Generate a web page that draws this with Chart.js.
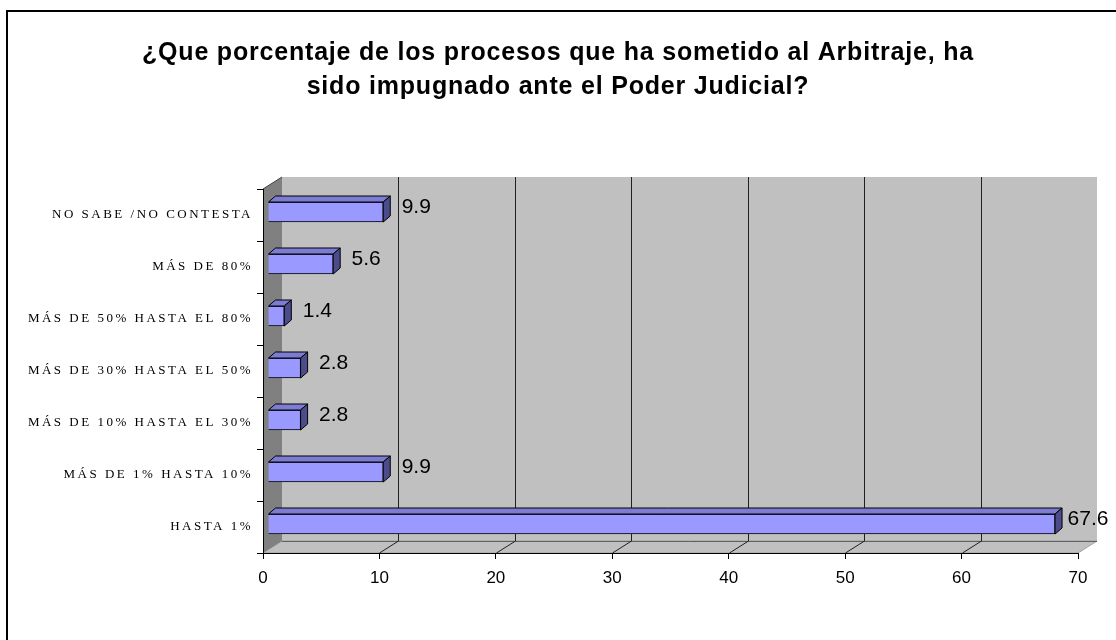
<!DOCTYPE html>
<html>
<head>
<meta charset="utf-8">
<script src="https://cdn.jsdelivr.net/npm/chart.js@4.4.0/dist/chart.umd.min.js"></script>
<style>
html, body { margin: 0; padding: 0; background: #fff; }
</style>
</head>
<body>
<canvas id="myChart" width="1116" height="640"></canvas>
<script>
const titleLines = [
    '¿Que porcentaje de los procesos que ha sometido al Arbitraje, ha',
    'sido impugnado ante el Poder Judicial?'
];
const categories = [
    'NO SABE /NO CONTESTA',
    'MÁS DE 80%',
    'MÁS DE 50% HASTA EL 80%',
    'MÁS DE 30% HASTA EL 50%',
    'MÁS DE 10% HASTA EL 30%',
    'MÁS DE 1% HASTA 10%',
    'HASTA 1%'
];
const percentages = [9.9, 5.6, 1.4, 2.8, 2.8, 9.9, 67.6];
const axisMin = 0;
const axisMax = 70;
const axisStep = 10;

// depth of the walls and of the bars (pixels)
const wallDX = 19, wallDY = 12;
const barDX = 7, barDY = 6;
const barShiftX = 5, barShiftY = -3;

function spaced(fn, spacing, dx) {
    return function (area) {
        const c = this.ctx;
        c.save();
        c.translate(dx, 0);
        c.letterSpacing = spacing;
        fn.call(this, area);
        c.letterSpacing = '0px';
        c.restore();
    };
}

const threeD = {
    id: 'threeD',
    afterLayout(chart) {
        const ys = chart.scales.y;
        if (ys && !ys._spaced) {
            ys.drawLabels = spaced(ys.drawLabels, '2.5px', 0);
            ys._spaced = true;
        }
        const tb = chart.titleBlock;
        if (tb && !tb._spaced) {
            tb.draw = spaced(tb.draw, '0.8px', 15);
            tb._spaced = true;
        }
    },
    beforeDraw(chart) {
        const ctx = chart.ctx;
        const a = chart.chartArea;
        const xs = chart.scales.x;
        ctx.save();
        // outer frame
        ctx.strokeStyle = '#000';
        ctx.lineWidth = 2;
        ctx.beginPath();
        ctx.moveTo(7, 640);
        ctx.lineTo(7, 11);
        ctx.lineTo(1116, 11);
        ctx.stroke();

        // back wall
        ctx.fillStyle = '#c0c0c0';
        ctx.fillRect(a.left + wallDX, a.top - wallDY, a.right - a.left, a.bottom - a.top);

        // floor
        ctx.beginPath();
        ctx.moveTo(a.left, a.bottom);
        ctx.lineTo(a.left + wallDX, a.bottom - wallDY);
        ctx.lineTo(a.right + wallDX, a.bottom - wallDY);
        ctx.lineTo(a.right, a.bottom);
        ctx.closePath();
        ctx.fillStyle = '#c0c0c0';
        ctx.fill();
        ctx.strokeStyle = '#a0a0a0';
        ctx.lineWidth = 1;
        ctx.stroke();

        // left wall
        ctx.beginPath();
        ctx.moveTo(a.left, a.top);
        ctx.lineTo(a.left + wallDX, a.top - wallDY);
        ctx.lineTo(a.left + wallDX, a.bottom - wallDY);
        ctx.lineTo(a.left, a.bottom);
        ctx.closePath();
        ctx.fillStyle = '#808080';
        ctx.fill();
        ctx.strokeStyle = '#404040';
        ctx.beginPath();
        ctx.moveTo(a.left, a.top);
        ctx.lineTo(a.left + wallDX, a.top - wallDY);
        ctx.stroke();

        // back edge of the floor
        ctx.strokeStyle = '#606060';
        ctx.beginPath();
        ctx.moveTo(a.left + wallDX, Math.round(a.bottom - wallDY) + 0.5);
        ctx.lineTo(a.right + wallDX, Math.round(a.bottom - wallDY) + 0.5);
        ctx.stroke();

        // gridlines on the floor and back wall
        ctx.strokeStyle = '#202020';
        for (let v = axisMin + axisStep; v < axisMax; v += axisStep) {
            const x = Math.round(xs.getPixelForValue(v)) + 0.5;
            ctx.beginPath();
            ctx.moveTo(x, a.bottom);
            ctx.lineTo(x + wallDX, a.bottom - wallDY);
            ctx.lineTo(x + wallDX, a.top - wallDY);
            ctx.stroke();
        }
        ctx.restore();
    },
    beforeDatasetsDraw(chart) {
        chart.ctx.save();
        chart.ctx.translate(barShiftX, barShiftY);
    },
    afterDatasetsDraw(chart) {
        const ctx = chart.ctx;
        const meta = chart.getDatasetMeta(0);
        ctx.lineWidth = 1;
        ctx.strokeStyle = '#000';
        meta.data.forEach((bar, i) => {
            const p = bar.getProps(['x', 'y', 'base', 'height'], true);
            const top = p.y - p.height / 2;
            const bottom = p.y + p.height / 2;
            // top face
            ctx.beginPath();
            ctx.moveTo(p.base, top);
            ctx.lineTo(p.base + barDX, top - barDY);
            ctx.lineTo(p.x + barDX, top - barDY);
            ctx.lineTo(p.x, top);
            ctx.closePath();
            ctx.fillStyle = '#7c7cd4';
            ctx.fill();
            ctx.stroke();
            // side face
            ctx.beginPath();
            ctx.moveTo(p.x, top);
            ctx.lineTo(p.x + barDX, top - barDY);
            ctx.lineTo(p.x + barDX, bottom - barDY);
            ctx.lineTo(p.x, bottom);
            ctx.closePath();
            ctx.fillStyle = '#4c4c8c';
            ctx.fill();
            ctx.stroke();
        });
        ctx.restore();

        // value labels
        ctx.save();
        ctx.font = '21px "Liberation Sans", Arial, sans-serif';
        ctx.fillStyle = '#000';
        ctx.textAlign = 'center';
        ctx.textBaseline = 'middle';
        meta.data.forEach((bar, i) => {
            const p = bar.getProps(['x', 'y'], true);
            ctx.fillText(percentages[i].toFixed(1), p.x + barShiftX + 33, p.y + barShiftY - 5);
        });
        ctx.restore();
    }
};

const ctx = document.getElementById('myChart').getContext('2d');
const chart = new Chart(ctx, {
    type: 'bar',
    data: {
        labels: categories,
        datasets: [{
            data: percentages,
            backgroundColor: '#9999ff',
            borderColor: '#000',
            borderWidth: 1,
            barThickness: 20
        }]
    },
    options: {
        indexAxis: 'y',
        responsive: false,
        animation: false,
        layout: {
            padding: { left: 8, right: 38, top: 0, bottom: 0 }
        },
        plugins: {
            legend: { display: false },
            tooltip: { enabled: false },
            title: {
                display: true,
                text: titleLines,
                color: '#000',
                font: { family: '"Liberation Sans", Arial, sans-serif', size: 25, weight: 'bold', lineHeight: '34px' },
                padding: { top: 36, bottom: 85 }
            }
        },
        scales: {
            x: {
                min: axisMin,
                max: axisMax,
                ticks: {
                    stepSize: axisStep,
                    color: '#000',
                    padding: 9,
                    font: { family: '"Liberation Sans", Arial, sans-serif', size: 17 }
                },
                grid: { drawOnChartArea: false, tickLength: 6, color: '#000' },
                border: { color: '#000' },
                afterFit(scale) { scale.height = 87; }
            },
            y: {
                ticks: {
                    color: '#000',
                    padding: 4,
                    font: { family: '"Liberation Serif", "Times New Roman", serif', size: 13 }
                },
                grid: { drawOnChartArea: false, tickLength: 6, color: '#000', offset: true },
                border: { color: '#000' },
                afterFit(scale) { scale.width = 255; }
            }
        }
    },
    plugins: [threeD]
});
</script>
</body>
</html>
